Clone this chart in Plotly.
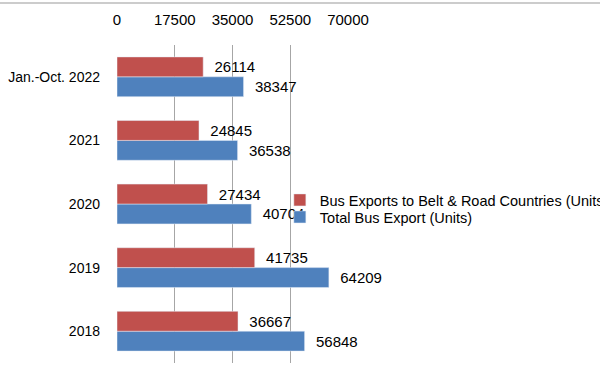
import plotly.graph_objects as go

categories = ["2018", "2019", "2020", "2021", "Jan.-Oct. 2022"]
belt_road = [36667, 41735, 27434, 24845, 26114]
total = [56848, 64209, 40704, 36538, 38347]
tick_vals = [0, 17500, 35000, 52500, 70000]

FONT = "Liberation Sans"
fig = go.Figure()
fig.add_trace(go.Bar(
    y=categories, x=total, orientation="h", name="Total Bus Export (Units)",
    marker=dict(color="#4F81BD"), legend="legend2",
    text=[str(v) for v in total], texttemplate="\u00a0\u00a0%{text}", textposition="outside",
    textfont=dict(family=FONT, size=15, color="#000"), cliponaxis=False,
))
fig.add_trace(go.Bar(
    y=categories, x=belt_road, orientation="h",
    name="Bus Exports to Belt & Road Countries (Units)",
    marker=dict(color="#C0504D"), legend="legend",
    text=[str(v) for v in belt_road], texttemplate="\u00a0\u00a0%{text}", textposition="outside",
    textfont=dict(family=FONT, size=15, color="#000"), cliponaxis=False,
))
leg_common = dict(xanchor="left", yanchor="middle", bgcolor="rgba(0,0,0,0)",
                  font=dict(family=FONT, size=14.5), itemwidth=30)
fig.update_layout(
    width=600, height=367,
    margin=dict(l=117, r=252, t=45, b=4, autoexpand=False),
    paper_bgcolor="white", plot_bgcolor="white",
    barmode="group", bargap=0.375, bargroupgap=0,
    font=dict(family=FONT, size=14, color="#000"),
    showlegend=True,
    legend=dict(x=0.705, y=0.5126, **leg_common),
    legend2=dict(x=0.705, y=0.459, **leg_common),
    xaxis=dict(side="top", range=[0, 70000], tickvals=tick_vals,
               ticktext=[str(v) for v in tick_vals], showgrid=True,
               gridcolor="#A6A6A6", gridwidth=1, zeroline=False,
               showline=False, ticks="", ticklabelstandoff=16,
               tickfont=dict(family=FONT, size=15)),
    yaxis=dict(showgrid=False, zeroline=False, showline=False, ticks="",
               ticklabelstandoff=16, tickfont=dict(family=FONT, size=14)),
    shapes=[dict(type="line", xref="paper", yref="paper", x0=-1, x1=3,
                 y0=1.132, y1=1.132, line=dict(color="#9A9A9A", width=1.2))],
)
fig.write_html("out.html", config={"displayModeBar": False},
               post_script="document.body.style.margin='0';")
